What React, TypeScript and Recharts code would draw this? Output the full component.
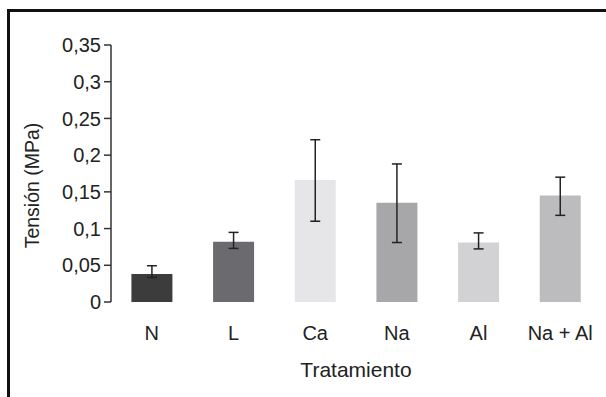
import React from "react";
import { BarChart, Bar, Cell, XAxis, YAxis, ErrorBar, Label } from "recharts";

// tratamientos y tensión media (MPa)
const categories = ["N", "L", "Ca", "Na", "Al", "Na + Al"];
const tension = [0.038, 0.082, 0.166, 0.135, 0.081, 0.145];
// error [abajo, arriba]
const errLow = [0.0045, 0.009, 0.056, 0.054, 0.0087, 0.027];
const errHigh = [0.0114, 0.0128, 0.055, 0.053, 0.0131, 0.025];
const yTicks = [0, 0.05, 0.1, 0.15, 0.2, 0.25, 0.3, 0.35];
const boundaryTicks = [0, 1, 2, 3, 4, 5, 6];

const FILLS = ["#3c3c3c", "#6b6b6f", "#e6e6e8", "#a7a7aa", "#d2d2d4", "#bcbcbf"];

const data = categories.map((name, i) => ({
  name,
  value: tension[i],
  err: [errLow[i], errHigh[i]],
}));

const FONT = "'Liberation Sans', Arial, sans-serif";
const TICK = { fontSize: 20, fill: "#222", fontFamily: FONT };
const AXIS_LINE = { stroke: "#333", strokeWidth: 1.5 };

const fmt = (v: number) => String(v).replace(".", ",");

export default function App() {
  return (
    <div
      style={{
        position: "fixed",
        left: 0,
        top: 0,
        width: 606,
        height: 397,
        overflow: "hidden",
        background: "#fff",
        fontFamily: FONT,
      }}
    >
      <div
        style={{
          position: "absolute",
          left: 7,
          top: 9,
          width: 640,
          height: 440,
          borderLeft: "3px solid #111",
          borderTop: "3px solid #111",
        }}
      />
      <div style={{ position: "absolute", left: 0, top: 0 }}>
        <BarChart
          width={606}
          height={397}
          data={data}
          margin={{ top: 45, right: 5, left: 20, bottom: 0 }}
          barCategoryGap="25%"
        >
          <XAxis
            xAxisId="grid"
            type="number"
            domain={[0, 6]}
            ticks={boundaryTicks}
            tick={false}
            tickLine={AXIS_LINE}
            axisLine={AXIS_LINE}
            tickSize={7}
            height={0}
            allowDataOverflow
          />
          <XAxis
            xAxisId="cat"
            dataKey="name"
            tick={TICK}
            tickLine={false}
            axisLine={false}
            tickSize={6}
            tickMargin={18}
            height={95}
          >
            <Label
              value="Tratamiento"
              position="insideBottom"
              offset={20}
              style={{ fontSize: 21, fill: "#222", fontFamily: FONT }}
            />
          </XAxis>
          <YAxis
            domain={[0, 0.35]}
            ticks={yTicks}
            tickFormatter={fmt}
            tick={TICK}
            tickLine={AXIS_LINE}
            axisLine={AXIS_LINE}
            tickSize={7}
            tickMargin={3}
            width={91}
            interval={0}
          >
            <Label
              value="Tensión (MPa)"
              angle={-90}
              position="insideLeft"
              offset={12}
              dy={12}
              style={{ fontSize: 19.5, fill: "#222", fontFamily: FONT, textAnchor: "middle" }}
            />
          </YAxis>
          <Bar dataKey="value" xAxisId="cat" isAnimationActive={false}>
            {data.map((d, i) => (
              <Cell key={d.name} fill={FILLS[i]} />
            ))}
            <ErrorBar
              dataKey="err"
              direction="y"
              width={5}
              stroke="#222"
              strokeWidth={1.5}
              isAnimationActive={false}
            />
          </Bar>
        </BarChart>
      </div>
    </div>
  );
}
